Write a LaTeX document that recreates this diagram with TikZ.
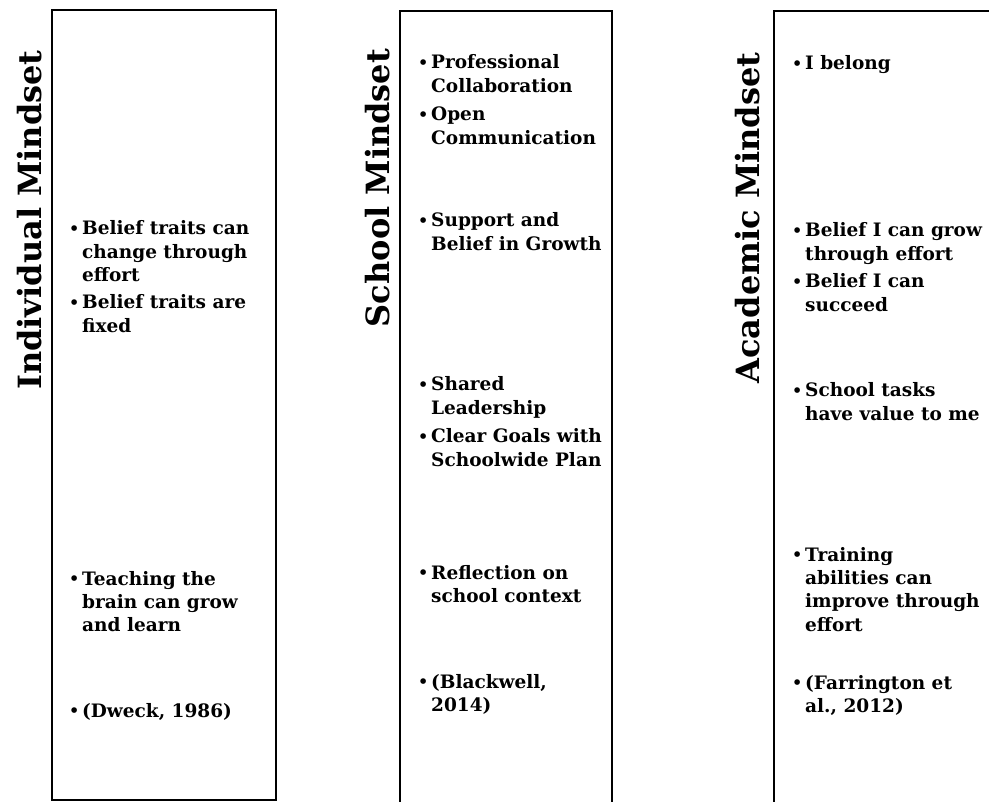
\documentclass[tikz,border=0pt]{standalone}
\usepackage{fontspec}
\setmainfont{DejaVu Serif}
\newcommand\itemlines[1]{\makebox[13pt][l]{\raisebox{0.5pt}{\fontsize{16}{16}\selectfont\textbullet}}\begin{tabular}[t]{@{}l@{}}#1\end{tabular}}
\begin{document}
\begin{tikzpicture}[x=1pt,y=-1pt,
  col/.style={draw=black,line width=2pt},
  title/.style={rotate=90,font=\fontsize{32}{36}\selectfont\bfseries,inner sep=0pt},
  entry/.style={anchor=base west,inner sep=0pt,font=\fontsize{18.5}{23.4}\selectfont\bfseries}]
\useasboundingbox (0,0) rectangle (989,802);
\begin{scope}
\clip (0,0) rectangle (989,802);
\draw[col] (52,10) rectangle (276,800);
\draw[col] (400,11) rectangle (612,830);
\draw[col] (774,11) rectangle (1010,830);
\end{scope}
\node[title] (t1) at (30,220) {Individual Mindset};
\node[title] (t2) at (378,188) {School Mindset};
\node[title] (t3) at (748,218) {Academic Mindset};
% box 1
\node[entry] (a1) at (69,235) {\itemlines{Belief traits can\\change through\\effort}};
\node[entry] (a2) at (69,309) {\itemlines{Belief traits are\\fixed}};
\node[entry] (a3) at (69,585) {\itemlines{Teaching the\\brain can grow\\and learn}};
\node[entry] (a4) at (69,717) {\itemlines{(Dweck, 1986)}};
% box 2
\node[entry] (b1) at (418,69) {\itemlines{Professional\\Collaboration}};
\node[entry] (b2) at (418,121) {\itemlines{Open\\Communication}};
\node[entry] (b3) at (418,227) {\itemlines{Support and\\Belief in Growth}};
\node[entry] (b4) at (418,391) {\itemlines{Shared\\Leadership}};
\node[entry] (b5) at (418,443) {\itemlines{Clear Goals with\\Schoolwide Plan}};
\node[entry] (b6) at (418,579) {\itemlines{Reflection on\\school context}};
\node[entry] (b7) at (418,688) {\itemlines{(Blackwell,\\2014)}};
% box 3
\node[entry] (c1) at (792,70) {\itemlines{I belong}};
\node[entry] (c2) at (792,237) {\itemlines{Belief I can grow\\through effort}};
\node[entry] (c3) at (792,288) {\itemlines{Belief I can\\succeed}};
\node[entry] (c4) at (792,397) {\itemlines{School tasks\\have value to me}};
\node[entry] (c5) at (792,561) {\itemlines{Training\\abilities can\\improve through\\effort}};
\node[entry] (c6) at (792,689) {\itemlines{(Farrington et\\al., 2012)}};
\end{tikzpicture}
\end{document}
